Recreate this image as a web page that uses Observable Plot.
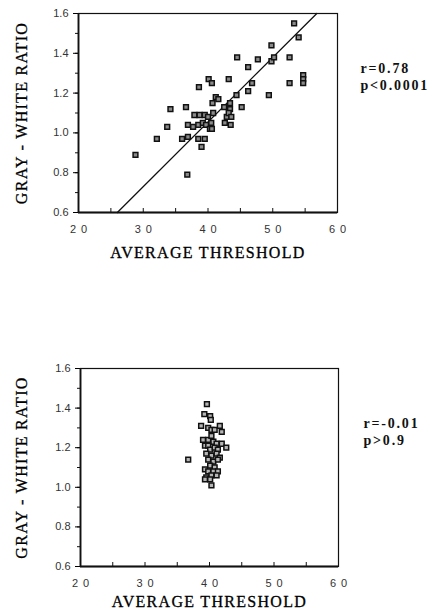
<!DOCTYPE html>
<html><head><meta charset="utf-8">
<script src="https://cdn.jsdelivr.net/npm/d3@7"></script>
<script src="https://cdn.jsdelivr.net/npm/@observablehq/plot@0.6"></script>
<style>
html,body{margin:0;padding:0;background:#fff;overflow:hidden;}
#wrap{position:relative;width:435px;height:611px;}
#wrap svg{position:absolute;left:0;overflow:visible;}
</style></head><body><div id="wrap"></div>
<script>
// ---- data ----
const topX = [28.8, 32.1, 33.7, 34.2, 36.0, 36.6, 36.9, 36.9, 36.8, 37.7, 37.9, 38.6, 38.5, 38.5, 38.7, 39.0, 39.5, 39.5, 39.2, 40.0, 39.7, 40.1, 40.5, 40.6, 40.7, 40.3, 40.6, 40.8, 41.2, 41.6, 42.5, 42.6, 42.9, 43.2, 43.4, 43.4, 43.2, 43.5, 43.6, 44.4, 44.5, 45.2, 46.2, 46.2, 46.8, 47.7, 49.4, 49.8, 49.8, 50.2, 52.6, 52.6, 53.3, 54.0, 54.7, 54.7, 54.7];
const topY = [0.89, 0.97, 1.03, 1.12, 0.97, 1.13, 1.04, 0.98, 0.79, 1.03, 1.09, 1.23, 1.04, 0.97, 1.09, 0.93, 1.09, 0.97, 1.05, 1.08, 1.04, 1.27, 1.05, 1.25, 1.15, 1.02, 1.02, 1.10, 1.18, 1.17, 1.13, 1.05, 1.08, 1.27, 1.15, 1.12, 1.10, 1.04, 1.08, 1.19, 1.38, 1.13, 1.33, 1.21, 1.25, 1.37, 1.19, 1.44, 1.36, 1.38, 1.38, 1.25, 1.55, 1.48, 1.29, 1.27, 1.25];
const fitX = [26.0, 56.8];
const fitY = [0.6, 1.6];
const botX = [39.6, 39.2, 40.1, 40.2, 38.7, 39.8, 40.3, 40.8, 41.6, 41.9, 39.0, 39.8, 40.3, 40.6, 41.1, 41.9, 42.6, 39.3, 39.8, 40.1, 40.8, 41.3, 39.5, 40.3, 41.1, 41.6, 39.8, 40.6, 41.3, 40.1, 40.8, 39.3, 39.8, 40.6, 41.3, 39.5, 40.3, 41.1, 39.3, 40.1, 40.3, 36.7];
const botY = [1.42, 1.37, 1.36, 1.34, 1.31, 1.30, 1.29, 1.29, 1.31, 1.28, 1.24, 1.24, 1.26, 1.23, 1.22, 1.22, 1.20, 1.21, 1.21, 1.19, 1.20, 1.19, 1.17, 1.16, 1.17, 1.15, 1.14, 1.13, 1.14, 1.11, 1.10, 1.09, 1.08, 1.08, 1.08, 1.05, 1.06, 1.06, 1.04, 1.04, 1.01, 1.14];
const topStats = ["r=0.78", "p<0.0001"];
const botStats = ["r=-0.01", "p>0.9"];
const xTitle = "AVERAGE THRESHOLD";
const yTitle = "GRAY - WHITE RATIO";
const xTicks = [20, 30, 40, 50, 60];
const xMinor = [20, 25, 30, 35, 40, 45, 50, 55, 60];
const yTicks = [0.6, 0.8, 1.0, 1.2, 1.4, 1.6];
const yMinor = [0.6, 0.7, 0.8, 0.9, 1.0, 1.1, 1.2, 1.3, 1.4, 1.5, 1.6];

const serif = "'Liberation Serif', 'Times New Roman', serif";
const sans = "'Liberation Sans', Arial, Helvetica, sans-serif";
const ink = "#111";

function chart(o) {
  const pts = o.xs.map((x, i) => ({x, y: o.ys[i]}));
  const marks = [
    Plot.axisX(xMinor, {tickSize: 4, dy: -4, tickFormat: () => "", label: null, stroke: ink}),
    Plot.axisX(xTicks, {tickSize: 0, tickPadding: 13, label: null, fontSize: 11, fill: "#333", dx: 2.5}),
    Plot.axisY(yMinor, {tickSize: 3, tickFormat: () => "", label: null, stroke: ink}),
    Plot.axisY(yTicks, {tickSize: 5, tickPadding: 5, tickFormat: d3.format(".1f"), label: null, fontSize: 11, fill: "#333"}),
    Plot.frame({stroke: ink, strokeWidth: 1.2}),
    Plot.ruleX([20], {stroke: ink, strokeWidth: 1.8}),
    Plot.ruleY([0.6], {stroke: ink, strokeWidth: 1.8})
  ];
  if (o.fit) {
    const fitPts = o.fit[0].map((x, i) => ({x, y: o.fit[1][i]}));
    marks.push(Plot.line(fitPts, {x: "x", y: "y", stroke: ink, strokeWidth: 1.3}));
  }
  marks.push(
    Plot.dot(pts, {x: "x", y: "y", symbol: "square", r: 2.7, fill: o.fill, stroke: "#111", strokeWidth: 1.5}),
    Plot.text([xTitle], {frameAnchor: "bottom", dy: o.titleDy, lineAnchor: "middle", fontFamily: serif, fontSize: 16, fill: "#000", stroke: "#000", strokeWidth: 0.3}),
    Plot.text([yTitle], {frameAnchor: "left", dx: o.yTitleDx, rotate: -90, lineAnchor: "middle", textAnchor: "middle", fontFamily: serif, fontSize: 16, fill: "#000", stroke: "#000", strokeWidth: 0.3}),
    Plot.text([o.stats.join("\n")], {frameAnchor: "top-right", dx: o.statsDx, dy: 48, textAnchor: "start", lineAnchor: "top", lineHeight: 1.19, fontFamily: serif, fontWeight: "bold", fontSize: 14, fill: ink})
  );
  const svg = Plot.plot({
    width: 435,
    height: o.top + o.plotH + o.bottom,
    marginLeft: o.left,
    marginRight: 435 - o.right,
    marginTop: o.top,
    marginBottom: o.bottom,
    x: {domain: [20, 60]},
    y: {domain: [0.6, 1.6]},
    style: {fontFamily: sans, fontSize: "11px", background: "transparent", overflow: "visible"},
    marks
  });
  const s = d3.select(svg);
  s.selectAll('g[aria-label="x-axis tick label"] text').attr("letter-spacing", "5px");
  s.selectAll("text").filter(function() { return this.textContent === xTitle || this.textContent === yTitle; }).attr("letter-spacing", "1.3px");
  s.selectAll("text").filter(function() { return this.textContent.startsWith("r="); }).attr("letter-spacing", "1.8px");
  svg.style.top = o.svgTop + "px";
  return svg;
}

const wrap = document.getElementById("wrap");
wrap.appendChild(chart({xs: topX, ys: topY, fit: [fitX, fitY], stats: topStats, left: 78, right: 337, top: 13, plotH: 199, bottom: 62, fill: "#8a8a8a", statsDx: 23, titleDy: 40, yTitleDx: -57, svgTop: 0}));
wrap.appendChild(chart({xs: botX, ys: botY, fit: null, stats: botStats, left: 80, right: 338, top: 13, plotH: 198, bottom: 46, fill: "#b5b5b5", statsDx: 25, titleDy: 35, yTitleDx: -59, svgTop: 355}));
</script>
</body></html>
